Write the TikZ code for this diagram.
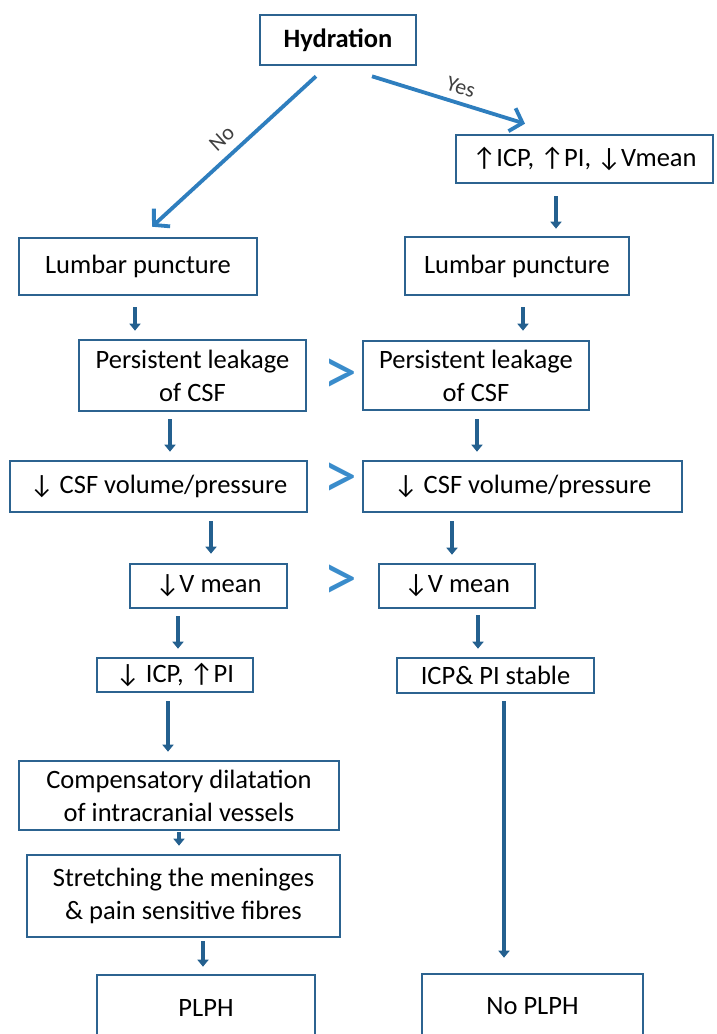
\documentclass[tikz,border=0pt]{standalone}
\usepackage{fontspec}
\setmainfont{Carlito}
\usetikzlibrary{arrows.meta,calc}
\definecolor{boxc}{HTML}{2C6390}
\definecolor{varr}{HTML}{24608F}
\definecolor{darr}{HTML}{2E7EBE}
\definecolor{gtc}{HTML}{3A8CCB}
\newfontfamily\arrfont{Carlito}
\newcommand\UA{{\arrfont ↑}}
\newcommand\DA{{\arrfont ↓}}
\tikzset{
 box/.style={draw=boxc, line width=2.6pt, inner sep=0pt, align=center, font=\fontsize{26.5}{33}\selectfont, text=black},
 va/.style={draw=varr, line width=4.5pt, -{Triangle[width=11pt,length=7pt]}},
 da/.style={draw=darr, line width=3.8pt, -{Straight Barb[length=11pt,width=24pt]}},
 gt/.style={text=gtc, font=\fontsize{68}{68}\selectfont, inner sep=0pt},
 lbl/.style={font=\fontsize{22}{22}\selectfont, text=black!75, inner sep=1pt},
}
\begin{document}
\begin{tikzpicture}[x=1pt,y=-1pt]
\useasboundingbox (0,0) rectangle (716,1034);
\clip (0,0) rectangle (716,1034);
% nodes
\node[box, font=\fontsize{26.5}{33}\selectfont\bfseries, minimum width=156pt, minimum height=50pt] (hyd) at (338,40) {Hydration};
\node[box, minimum width=257pt, minimum height=48pt] (upR) at (584.5,159) {\UA ICP, \UA PI, \DA Vmean};
\node[box, minimum width=238pt, minimum height=57pt] (lpL) at (138,266.5) {Lumbar puncture};
\node[box, minimum width=224pt, minimum height=58pt] (lpR) at (517,266) {Lumbar puncture};
\node[box, minimum width=227pt, minimum height=71pt] (plL) at (192.5,375.5) {Persistent leakage\\of CSF};
\node[box, minimum width=226pt, minimum height=69pt] (plR) at (476,375.5) {Persistent leakage\\of CSF};
\node[box, minimum width=297pt, minimum height=51pt] (csfL) at (158.5,486.5) {\DA\ CSF volume/pressure};
\node[box, minimum width=319pt, minimum height=51pt] (csfR) at (522.5,486.5) {\DA\ CSF volume/pressure};
\node[box, minimum width=157pt, minimum height=44pt] (vmL) at (208.5,586) {\DA V mean};
\node[box, minimum width=156pt, minimum height=44pt] (vmR) at (457,586) {\DA V mean};
\node[box, minimum width=156pt, minimum height=34pt] (icpL) at (175,675) {\DA\ ICP, \UA PI};
\node[box, minimum width=197pt, minimum height=35pt] (icpR) at (495.5,675.5) {ICP\& PI stable};
\node[box, minimum width=320pt, minimum height=69pt] (comp) at (179,795.5) {Compensatory dilatation\\of intracranial vessels};
\node[box, minimum width=313pt, minimum height=82pt] (str) at (183.5,896) {Stretching the meninges\\\& pain sensitive fibres};
\node[box, minimum width=218pt, minimum height=66pt] (plph) at (206,1008) {PLPH};
\node[box, minimum width=221pt, minimum height=64pt] (noplph) at (532.5,1006) {No PLPH};
% comparison signs
\node[gt] (g1) at (340,377) {>};
\node[gt] (g2) at (340,481) {>};
\node[gt] (g3) at (340,583) {>};
% diagonal arrows
\draw[da] ($(hyd.south)+(-22,10)$) -- node[lbl, sloped, above=8pt, pos=0.5] {No} ($(lpL.north)+(14,-10)$);
\draw[da] ($(hyd.south)+(34,10)$) -- node[lbl, sloped, above=6pt, pos=0.55] {Yes} ($(upR.north)+(-59.5,-10)$);
% vertical arrows
\draw[va] ($(upR.south)+(-28.5,12)$) -- ($(lpR.north)+(39,-7)$);
\draw[va] ($(lpL.south)+(-3,11)$) -- ($(plL.north)+(-57.5,-8)$);
\draw[va] ($(lpR.south)+(6,11)$) -- ($(plR.north)+(47,-9)$);
\draw[va] ($(plL.south)+(-22.5,7)$) -- ($(csfL.north)+(11.5,-8)$);
\draw[va] ($(plR.south)+(1,8)$) -- ($(csfR.north)+(-45.5,-8)$);
\draw[va] ($(csfL.south)+(52.5,8)$) -- ($(vmL.north)+(2.5,-9)$);
\draw[va] ($(csfR.south)+(-70.5,8)$) -- ($(vmR.north)+(-5,-8)$);
\draw[va] ($(vmL.south)+(-30.5,7)$) -- ($(icpL.north)+(3,-8)$);
\draw[va] ($(vmR.south)+(21,6)$) -- ($(icpR.north)+(-17.5,-8)$);
\draw[va] ($(icpL.south)+(-7,8)$) -- ($(comp.north)+(-11,-8)$);
\draw[va] ($(icpR.south)+(8.5,7)$) -- ($(noplph.north)+(-28.5,-15)$);
\draw[va] ($(comp.south)+(0,1)$) -- ($(str.north)+(-4.5,-8)$);
\draw[va] ($(str.south)+(19.5,3)$) -- ($(plph.north)+(-3,-7)$);
\end{tikzpicture}
\end{document}
